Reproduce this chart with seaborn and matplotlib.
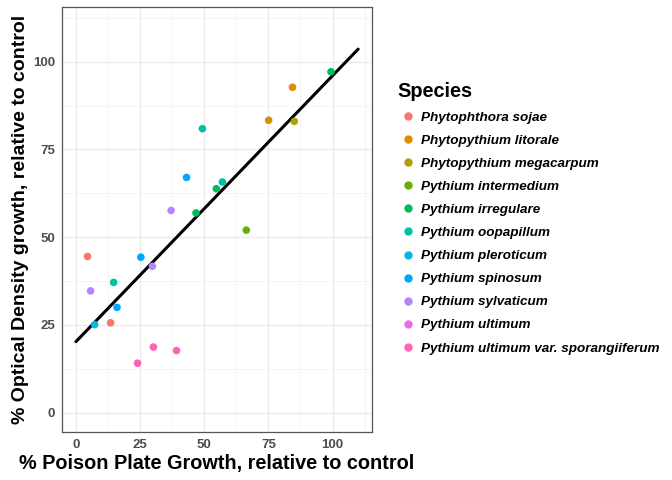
import matplotlib

matplotlib.use("Agg")
import matplotlib.pyplot as plt
import numpy as np
import pandas as pd
import seaborn as sns
from matplotlib.lines import Line2D
from matplotlib.ticker import MultipleLocator

SPECIES = [
    "Phytophthora sojae",
    "Phytopythium litorale",
    "Phytopythium megacarpum",
    "Pythium intermedium",
    "Pythium irregulare",
    "Pythium oopapillum",
    "Pythium pleroticum",
    "Pythium spinosum",
    "Pythium sylvaticum",
    "Pythium ultimum",
    "Pythium ultimum var. sporangiiferum",
]
COLORS = ["#F8766D", "#DB8E00", "#AEA200", "#64B200", "#00BD5C", "#00C1A7",
          "#00BADE", "#00A6FF", "#B385FF", "#EF67EB", "#FF63B6"]

point_species = [
    "Phytophthora sojae", "Phytophthora sojae",
    "Phytopythium litorale", "Phytopythium litorale",
    "Phytopythium megacarpum",
    "Pythium intermedium",
    "Pythium irregulare", "Pythium irregulare", "Pythium irregulare",
    "Pythium oopapillum", "Pythium oopapillum", "Pythium oopapillum",
    "Pythium pleroticum",
    "Pythium spinosum", "Pythium spinosum", "Pythium spinosum",
    "Pythium sylvaticum", "Pythium sylvaticum", "Pythium sylvaticum",
    "Pythium ultimum var. sporangiiferum", "Pythium ultimum var. sporangiiferum",
    "Pythium ultimum var. sporangiiferum",
]
poison_plate = [4.5, 13.5, 84.4, 75.1, 85.1, 66.4, 99.4, 54.7, 46.8, 49.3, 57.1, 14.7,
                7.3, 43.1, 25.3, 16.0, 37.1, 29.8, 5.7, 30.2, 39.2, 24.0]
optical_density = [44.5, 25.6, 92.7, 83.3, 83.0, 52.0, 97.1, 63.8, 56.9, 80.9, 65.7, 37.1,
                   25.1, 67.0, 44.3, 30.0, 57.6, 41.7, 34.7, 18.7, 17.7, 14.1]

df = pd.DataFrame({"Species": point_species, "pp": poison_plate, "od": optical_density})
palette = dict(zip(SPECIES, COLORS))

sns.set_theme(style="whitegrid")
plt.rcParams["font.family"] = ["Liberation Sans", "DejaVu Sans"]
plt.rcParams["text.color"] = "black"

fig = plt.figure(figsize=(6.72, 4.8), dpi=100)
ax = fig.add_axes([0.092, 0.1, 0.462, 0.885])

ax.set_xlim(0, 110)
sns.regplot(data=df, x="pp", y="od", scatter=False, ci=None, truncate=False,
            color="black", line_kws={"lw": 2.2, "zorder": 2}, ax=ax)
sns.scatterplot(data=df, x="pp", y="od", hue="Species", hue_order=SPECIES,
                palette=palette, s=30, edgecolor="none", legend=False, zorder=3, ax=ax)

ax.set_xlim(-5.5, 115.5)
ax.set_ylim(-5.5, 115.5)
ax.xaxis.set_major_locator(MultipleLocator(25))
ax.yaxis.set_major_locator(MultipleLocator(25))
ax.xaxis.set_minor_locator(MultipleLocator(12.5))
ax.yaxis.set_minor_locator(MultipleLocator(12.5))
ax.set_facecolor("white")
ax.grid(True, which="major", color="#EBEBEB", lw=1.0)
ax.grid(True, which="minor", color="#F2F2F2", lw=0.6)
ax.set_axisbelow(True)
for s in ax.spines.values():
    s.set_color("#555555")
    s.set_linewidth(0.9)
ax.tick_params(which="major", length=3, width=0.8, color="#555555", pad=2,
               labelsize=9.5, labelcolor="#4D4D4D")
ax.tick_params(which="minor", length=0)
for lab in ax.get_xticklabels() + ax.get_yticklabels():
    lab.set_fontweight("bold")

ax.set_xlabel("% Poison Plate Growth, relative to control", fontsize=14.3,
              fontweight="bold", color="black", labelpad=2)
ax.set_ylabel("% Optical Density growth, relative to control", fontsize=14,
              fontweight="bold", color="black", labelpad=3)

handles = [Line2D([], [], marker="o", ls="", color=palette[sp], markersize=5)
           for sp in SPECIES]
leg = fig.legend(handles, SPECIES, title="Species", loc="upper left",
                 bbox_to_anchor=(0.574, 0.855), frameon=False, handletextpad=0.25,
                 labelspacing=0.79, handlelength=1.5, labelcolor="black",
                 prop={"weight": "bold", "style": "italic", "size": 9.7},
                 title_fontproperties={"weight": "bold", "size": 14.3})
leg.get_title().set_color("black")
leg._legend_box.align = "left"

fig.savefig("out.png", dpi=100)
